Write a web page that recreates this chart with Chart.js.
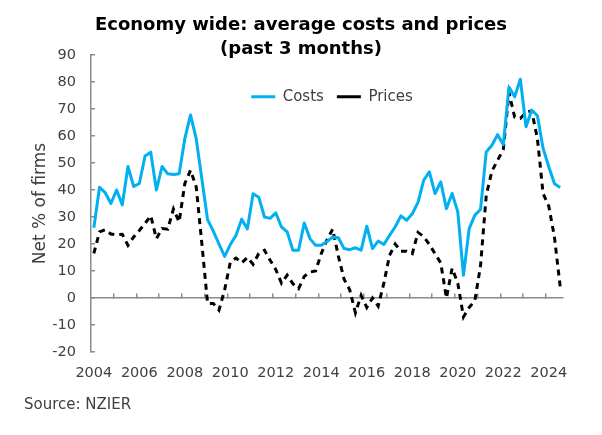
<!DOCTYPE html>
<html>
<head>
<meta charset="utf-8">
<script src="https://cdn.jsdelivr.net/npm/chart.js@4/dist/chart.umd.min.js"></script>
<style>
html, body { margin: 0; padding: 0; background: #ffffff; }
canvas { display: block; }
</style>
</head>
<body>
<canvas id="chart" width="602" height="435"></canvas>
<script>
// ---- Data (quarterly, net % of firms) ----
const quarters = [
  '2004 Q1','2004 Q2','2004 Q3','2004 Q4','2005 Q1','2005 Q2','2005 Q3','2005 Q4',
  '2006 Q1','2006 Q2','2006 Q3','2006 Q4','2007 Q1','2007 Q2','2007 Q3','2007 Q4',
  '2008 Q1','2008 Q2','2008 Q3','2008 Q4','2009 Q1','2009 Q2','2009 Q3','2009 Q4',
  '2010 Q1','2010 Q2','2010 Q3','2010 Q4','2011 Q1','2011 Q2','2011 Q3','2011 Q4',
  '2012 Q1','2012 Q2','2012 Q3','2012 Q4','2013 Q1','2013 Q2','2013 Q3','2013 Q4',
  '2014 Q1','2014 Q2','2014 Q3','2014 Q4','2015 Q1','2015 Q2','2015 Q3','2015 Q4',
  '2016 Q1','2016 Q2','2016 Q3','2016 Q4','2017 Q1','2017 Q2','2017 Q3','2017 Q4',
  '2018 Q1','2018 Q2','2018 Q3','2018 Q4','2019 Q1','2019 Q2','2019 Q3','2019 Q4',
  '2020 Q1','2020 Q2','2020 Q3','2020 Q4','2021 Q1','2021 Q2','2021 Q3','2021 Q4',
  '2022 Q1','2022 Q2','2022 Q3','2022 Q4','2023 Q1','2023 Q2','2023 Q3','2023 Q4',
  '2024 Q1','2024 Q2','2024 Q3'
];

const costs = [
  26, 41, 39, 35, 40, 34.5, 48.7, 41.3, 42.4, 52.6,
  54, 40, 48.7, 46, 45.7, 46, 59, 67.8, 59, 44,
  29, 24.8, 20, 15.4, 19.8, 23.2, 29.2, 25.6, 38.6, 37.3,
  30, 29.5, 31.5, 26.3, 24.5, 17.7, 17.7, 27.8, 22, 19.5,
  19.5, 20.9, 22.6, 22.3, 18.3, 17.9, 18.6, 17.7, 26.6, 18.3,
  21.1, 19.8, 23.2, 26.4, 30.4, 28.8, 31.2, 35.4, 43.6, 46.7,
  38.7, 43, 33.1, 38.7, 31.9, 8.4, 25.7, 30.7, 32.8, 54.1,
  56.6, 60.5, 56.8, 78.1, 74.5, 81, 63.4, 69.6, 67.5, 55.4,
  48.6, 42.3, 40.9
];

const prices = [
  16.5, 24.5, 25.3, 23.7, 23.4, 23.6, 19.5, 22.6, 25, 27.6,
  30.5, 22, 25.7, 25.5, 33, 28.2, 42.4, 47.3, 41.2, 20,
  -2, -2, -4.5, 3, 13.3, 14.8, 13, 15, 12.5, 16.5,
  17.7, 14, 10.5, 5.5, 8.5, 5.3, 3.5, 8, 9.6, 10,
  16.5, 21.5, 25.5, 15.5, 7, 3, -5.5, 1, -3.5, 0,
  -3, 5.5, 15.8, 20, 17.3, 17.3, 16.4, 24.3, 22.8, 19.8,
  16.4, 13, 0, 11, 5.5, -7, -3.5, -1, 12, 38,
  47, 51, 55, 76, 67, 66.5, 68.8, 69.3, 59, 38.7,
  34, 22.5, 4.3
];

const tickYears = ['2004','2006','2008','2010','2012','2014','2016','2018','2020','2022','2024'];
const seriesNames = ['Costs', 'Prices'];
const titleLines = ['Economy wide: average costs and prices', '(past 3 months)'];
const yTitle = 'Net % of firms';
const sourceText = 'Source: NZIER';

// ---- Styling ----
Chart.defaults.font.family = "'DejaVu Sans', Verdana, sans-serif";
Chart.defaults.color = '#404040';
const AXIS = '#8c8c8c';
const LEGEND_FONT = 15;
const LEGEND_PAD = 13;

// Place the library legend inside the plot area (as in the reference)
const legendInside = {
  id: 'legendInside',
  beforeLayout(chart) {
    const lg = chart.legend;
    if (lg && !lg._insidePatched) {
      const fit = lg.fit;
      lg.fit = function () { fit.call(this); this.height = 0; };
      lg._insidePatched = true;
    }
  },
  afterLayout(chart) {
    const lg = chart.legend;
    const ca = chart.chartArea;
    const cy = chart.scales.y.getPixelForValue(74.5);
    const cx = (ca.left + ca.right) / 2 + 5;
    lg.top = cy - LEGEND_PAD - LEGEND_FONT / 2;
    lg.bottom = lg.top + 2 * LEGEND_PAD + LEGEND_FONT + 4;
    lg.height = lg.bottom - lg.top;
    lg.left = cx - 160;
    lg.right = cx + 160;
    lg.width = 320;
  }
};

new Chart(document.getElementById('chart'), {
  type: 'line',
  data: {
    labels: quarters,
    datasets: [
      {
        label: seriesNames[0],
        data: costs,
        borderColor: '#00B0F0',
        backgroundColor: '#00B0F0',
        borderWidth: 3,
        pointRadius: 0,
        tension: 0,
        borderJoinStyle: 'round',
        xAxisID: 'x',
        yAxisID: 'y'
      },
      {
        label: seriesNames[1],
        data: prices,
        borderColor: '#000000',
        backgroundColor: '#000000',
        borderWidth: 3,
        borderDash: [6, 5],
        pointRadius: 0,
        tension: 0,
        xAxisID: 'x',
        yAxisID: 'y'
      }
    ]
  },
  options: {
    responsive: false,
    animation: false,
    events: [],
    layout: { padding: { left: 24, right: 24, top: 0, bottom: 0 } },
    plugins: {
      tooltip: { enabled: false },
      title: {
        display: true,
        text: titleLines,
        color: '#000000',
        font: { size: 18, weight: 'bold', lineHeight: '24px' },
        padding: { top: 13, bottom: -6 }
      },
      subtitle: {
        display: true,
        text: sourceText,
        position: 'bottom',
        align: 'start',
        color: '#404040',
        font: { size: 15 },
        padding: { top: 8, bottom: 21 }
      },
      legend: {
        display: true,
        position: 'top',
        labels: {
          usePointStyle: true,
          pointStyle: 'line',
          pointStyleWidth: 24,
          color: '#404040',
          font: { size: LEGEND_FONT },
          padding: LEGEND_PAD
        }
      }
    },
    scales: {
      x: {
        type: 'category',
        position: { y: 0 },
        offset: true,
        grid: {
          offset: true,
          drawOnChartArea: false,
          drawTicks: true,
          tickLength: -5,
          lineWidth: 1.5,
          color: (c) => (c.index > 0 && c.index < quarters.length && c.index % 4 === 0) ? AXIS : 'rgba(0,0,0,0)'
        },
        border: { display: true, color: AXIS, width: 1.5 },
        ticks: { display: false }
      },
      xb: {
        type: 'category',
        position: 'bottom',
        offset: true,
        grid: { display: false, drawTicks: false },
        border: { display: false },
        ticks: {
          autoSkip: false,
          maxRotation: 0,
          minRotation: 0,
          padding: 13,
          color: '#404040',
          font: { size: 14.5 },
          callback: function (value, index) {
            const q = quarters[index];
            const yr = q.slice(0, 4);
            return (q.endsWith('Q1') && tickYears.includes(yr)) ? yr : '';
          }
        },
        afterFit: (s) => { s.height = 36; }
      },
      y: {
        type: 'linear',
        position: 'left',
        min: -20,
        max: 90,
        ticks: { stepSize: 10, padding: 19, color: '#404040', font: { size: 14.5 } },
        grid: { drawOnChartArea: false, drawTicks: true, tickLength: -4, color: AXIS, lineWidth: 1.5 },
        border: { display: true, color: AXIS, width: 1.5 },
        title: {
          display: true,
          text: yTitle,
          color: '#404040',
          font: { size: 17 },
          padding: { top: 6, bottom: 0 }
        },
        afterFit: (s) => { s.width = 67; }
      },
      yr: {
        type: 'linear',
        position: 'right',
        display: true,
        grid: { display: false, drawTicks: false },
        border: { display: false },
        ticks: { display: false },
        afterFit: (s) => { s.width = 15; }
      }
    }
  },
  plugins: [legendInside]
});
</script>
</body>
</html>
